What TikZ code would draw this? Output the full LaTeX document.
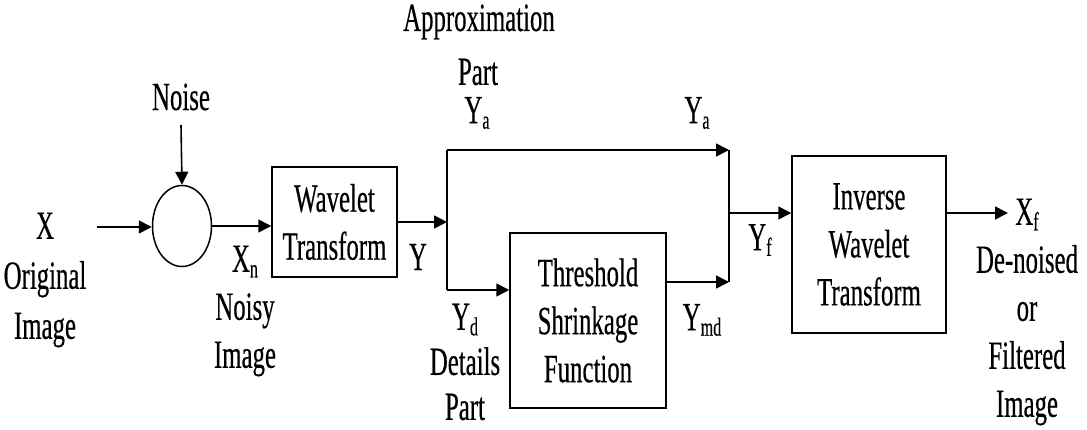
\documentclass[tikz,border=0pt]{standalone}
\usepackage{fontspec}
\setmainfont{Liberation Serif}[FakeStretch=0.62,FakeBold=0.4]
\usetikzlibrary{arrows.meta,shapes.geometric}
\newcommand\lowsub[1]{\raisebox{-0.3ex}{\fontsize{26}{26}\selectfont #1}}
\tikzset{
  every node/.style={font=\fontsize{40}{48}\selectfont, inner sep=0pt},
  blk/.style={draw, line width=1.5pt, align=center},
  lbl/.style={align=center},
  wire/.style={line width=1.6pt},
  arr/.style={wire, -{Triangle[length=13pt,width=13pt]}},
}
\begin{document}
\begin{tikzpicture}[x=1pt,y=-1pt]
\useasboundingbox (0,0) rectangle (1087,430);

% summing junction and processing blocks
\node[ellipse, draw, line width=1.5pt, minimum width=59pt, minimum height=81pt] (sum) at (182,226) {};
\node[blk, minimum width=125pt, minimum height=110pt] (wt) at (334.5,222) {Wavelet\\Transform};
\node[blk, minimum width=156pt, minimum height=175pt] (thr) at (588,320.5) {Threshold\\Shrinkage\\Function};
\node[blk, minimum width=154pt, minimum height=177pt] (inv) at (869,244.5) {Inverse\\Wavelet\\Transform};

% signal labels
\node[lbl, font=\fontsize{40}{50}\selectfont] (xlab) at (45,280) {X\\Original\\Image};
\node[lbl] (noise) at (181,97) {Noise};
\node[lbl] (xn) at (245,311) {X\lowsub{n}\\Noisy\\Image};
\node[lbl] (approx) at (479,22) {Approximation};
\node[lbl] (apart) at (478,72) {Part};
\node[lbl] (ya1) at (477,113) {Y\lowsub{a}};
\node[lbl] (ya2) at (697,113) {Y\lowsub{a}};
\node[lbl] (y) at (418,257) {Y};
\node[lbl, font=\fontsize{40}{45}\selectfont] (yd) at (465,362) {Y\lowsub{d}\\Details\\Part};
\node[lbl] (ymd) at (702,320) {Y\lowsub{md}};
\node[lbl] (yf) at (760,240) {Y\lowsub{f}};
\node[lbl] (xf) at (1027,312) {X\lowsub{f}\\De-noised\\or\\Filtered\\Image};

% junction points
\coordinate (xin) at (97,227);
\coordinate (nin) at (181,125);
\coordinate (split) at (447,222);
\coordinate (atop) at (447,150);
\coordinate (dlow) at (447,290);
\coordinate (merge) at (729,150);
\coordinate (mlow) at (729,282);
\coordinate (mout) at (729,213);
\coordinate (xout) at (1008,213);

% connectors
\draw[arr] (xin) -- (xin -| sum.west);
\draw[arr] (nin) -- (sum.north);
\draw[arr] (sum.east) -- (sum.east -| wt.west);
\draw[arr] (split -| wt.east) -- (split);
\draw[wire] (atop) -- (dlow);
\draw[arr] (atop) -- (merge);
\draw[arr] (dlow) -- (dlow -| thr.west);
\draw[arr] (mlow -| thr.east) -- (mlow);
\draw[wire] (merge) -- (mlow);
\draw[arr] (mout) -- (mout -| inv.west);
\draw[arr] (mout -| inv.east) -- (xout);
\end{tikzpicture}
\end{document}
